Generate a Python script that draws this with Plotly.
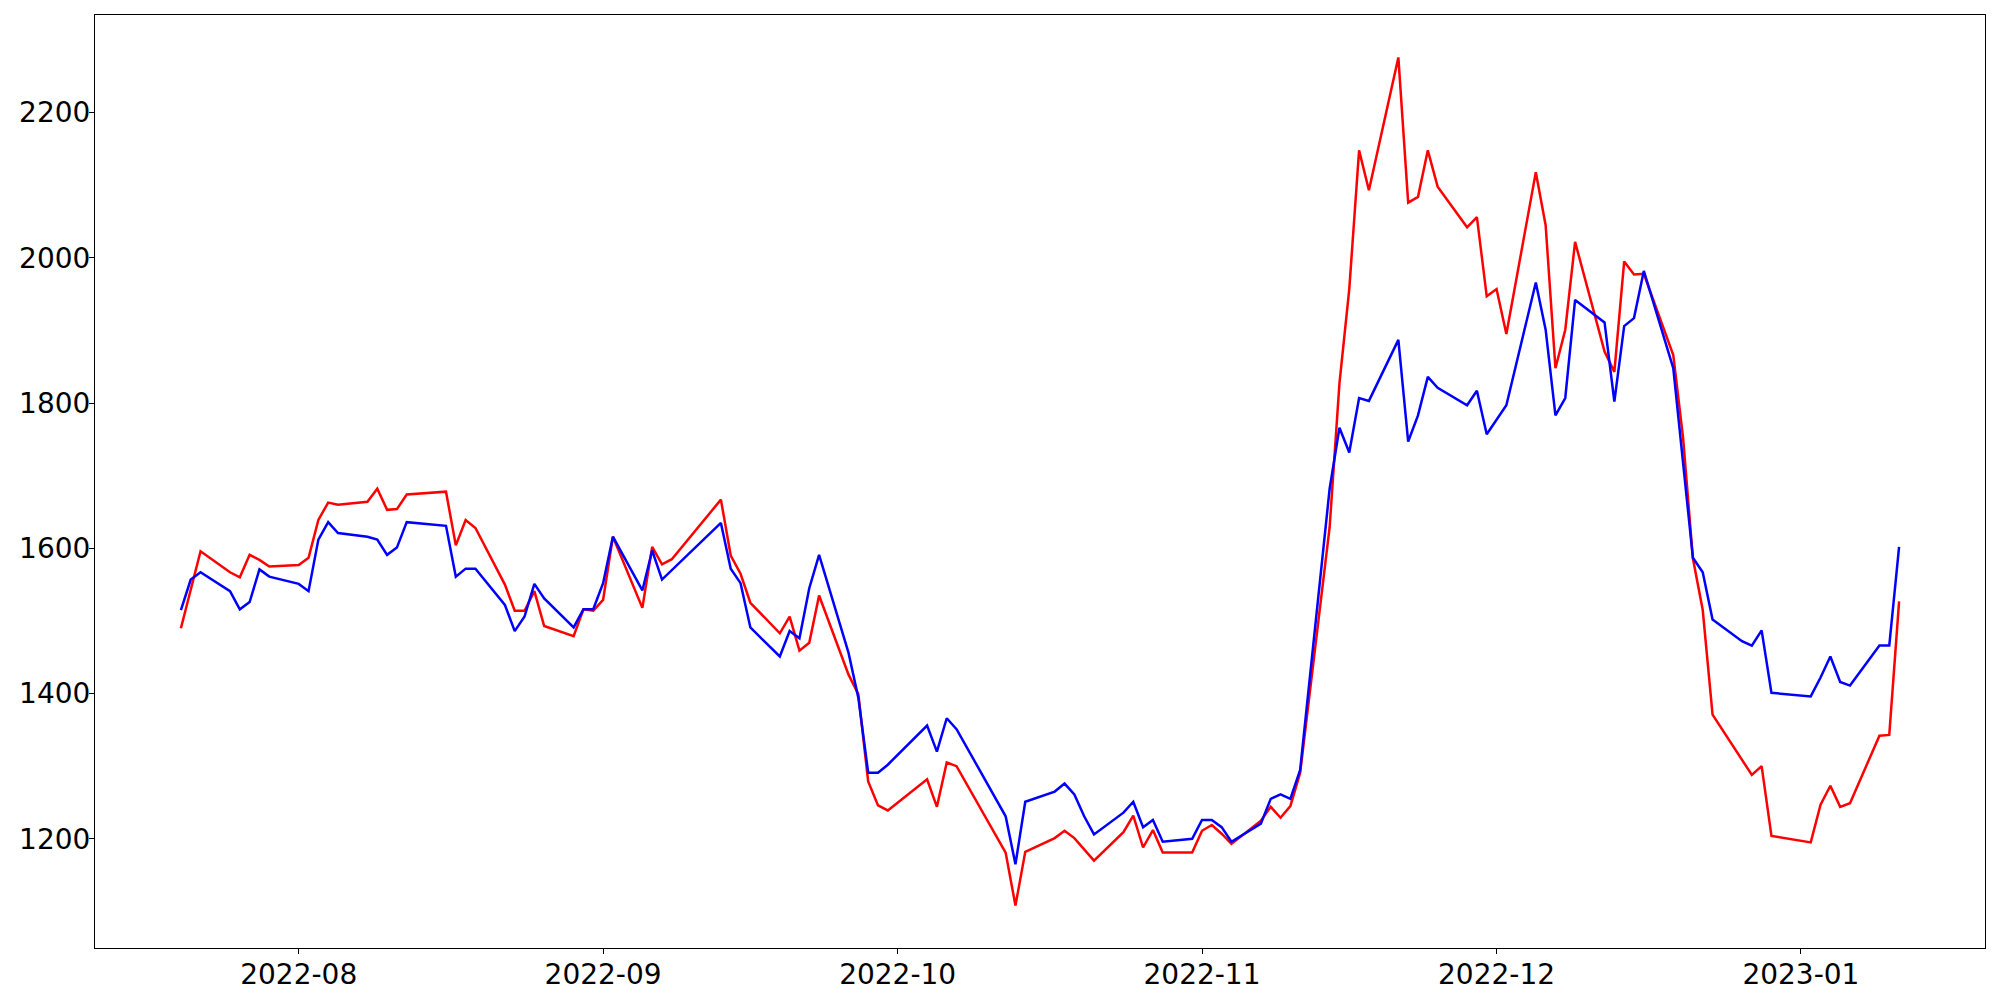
import pandas as pd
import plotly.graph_objects as go

dates = [
    "2022-07-20", "2022-07-21", "2022-07-22", "2022-07-25", "2022-07-26", "2022-07-27", "2022-07-28", "2022-07-29",
    "2022-08-01", "2022-08-02", "2022-08-03", "2022-08-04", "2022-08-05", "2022-08-08", "2022-08-09", "2022-08-10",
    "2022-08-11", "2022-08-12", "2022-08-16", "2022-08-17", "2022-08-18", "2022-08-19", "2022-08-22", "2022-08-23",
    "2022-08-24", "2022-08-25", "2022-08-26", "2022-08-29", "2022-08-30", "2022-08-31",
    "2022-09-01", "2022-09-02", "2022-09-05", "2022-09-06", "2022-09-07", "2022-09-08", "2022-09-13", "2022-09-14",
    "2022-09-15", "2022-09-16", "2022-09-19", "2022-09-20", "2022-09-21", "2022-09-22", "2022-09-23", "2022-09-26",
    "2022-09-27", "2022-09-28", "2022-09-29", "2022-09-30",
    "2022-10-04", "2022-10-05", "2022-10-06", "2022-10-07", "2022-10-12", "2022-10-13", "2022-10-14", "2022-10-17",
    "2022-10-18", "2022-10-19", "2022-10-20", "2022-10-21", "2022-10-24", "2022-10-25", "2022-10-26", "2022-10-27",
    "2022-10-28", "2022-10-31",
    "2022-11-01", "2022-11-02", "2022-11-03", "2022-11-04", "2022-11-07", "2022-11-08", "2022-11-09", "2022-11-10",
    "2022-11-11", "2022-11-14", "2022-11-15", "2022-11-16", "2022-11-17", "2022-11-18", "2022-11-21", "2022-11-22",
    "2022-11-23", "2022-11-24", "2022-11-25", "2022-11-28", "2022-11-29", "2022-11-30",
    "2022-12-01", "2022-12-02", "2022-12-05", "2022-12-06", "2022-12-07", "2022-12-08", "2022-12-09", "2022-12-12",
    "2022-12-13", "2022-12-14", "2022-12-15", "2022-12-16", "2022-12-19", "2022-12-20", "2022-12-21", "2022-12-22",
    "2022-12-23", "2022-12-26", "2022-12-27", "2022-12-28", "2022-12-29",
    "2023-01-02", "2023-01-03", "2023-01-04", "2023-01-05", "2023-01-06", "2023-01-09", "2023-01-10", "2023-01-11",
]

red_values = [
    1490, 1545, 1596, 1567, 1560, 1591, 1584, 1575,
    1577, 1587, 1639, 1663, 1660, 1664, 1682, 1653,
    1654, 1674, 1678, 1604, 1639, 1628, 1550, 1514,
    1514, 1541, 1493, 1479, 1516, 1514,
    1529, 1616, 1518, 1602, 1578, 1585, 1667, 1590,
    1565, 1525, 1483, 1506, 1459, 1470, 1535, 1426,
    1399, 1279, 1246, 1239,
    1282, 1244, 1305, 1300, 1181, 1108, 1182, 1201,
    1211, 1201, 1186, 1170, 1209, 1232, 1188, 1212,
    1181, 1181,
    1211, 1219, 1207, 1193, 1225, 1244, 1229, 1245,
    1291, 1629, 1827, 1957, 2148, 2093, 2276, 2076,
    2084, 2148, 2098, 2042, 2056, 1947,
    1957, 1895, 2118, 2045, 1848, 1901, 2022, 1871,
    1843, 1995, 1977, 1978, 1866, 1752, 1586, 1515,
    1371, 1310, 1288, 1300, 1204,
    1195, 1247, 1273, 1244, 1249, 1342, 1343, 1527,
]

blue_values = [
    1515, 1557, 1567, 1541, 1516, 1526, 1571, 1561,
    1551, 1541, 1612, 1636, 1621, 1616, 1612, 1591,
    1601, 1636, 1631, 1561, 1572, 1572, 1522, 1486,
    1506, 1551, 1531, 1491, 1516, 1516,
    1552, 1616, 1542, 1597, 1557, 1570, 1635, 1572,
    1552, 1491, 1451, 1486, 1476, 1545, 1591, 1456,
    1394, 1291, 1291, 1302,
    1356, 1320, 1366, 1351, 1231, 1165, 1251, 1265,
    1276, 1261, 1231, 1206, 1236, 1251, 1216, 1226,
    1196, 1200,
    1226, 1226, 1216, 1196, 1221, 1255, 1261, 1255,
    1295, 1682, 1766, 1732, 1807, 1803, 1887, 1747,
    1783, 1836, 1821, 1797, 1817, 1757,
    1777, 1797, 1966, 1901, 1783, 1807, 1942, 1911,
    1802, 1906, 1917, 1982, 1848, 1722, 1587, 1567,
    1502, 1472, 1466, 1487, 1401,
    1396, 1422, 1451, 1416, 1411, 1466, 1466, 1602,
]

y_ticks = [1200, 1400, 1600, 1800, 2000, 2200]
x_ticks = ["2022-08-01", "2022-09-01", "2022-10-01", "2022-11-01", "2022-12-01", "2023-01-01"]
x_tick_labels = ["2022-08", "2022-09", "2022-10", "2022-11", "2022-12", "2023-01"]

dt = pd.to_datetime(dates)
span = dt.max() - dt.min()
x_range = [dt.min() - span * 0.05, dt.max() + span * 0.05]
all_y = red_values + blue_values
ymin, ymax = min(all_y), max(all_y)
pad = (ymax - ymin) * 0.05
y_range = [ymin - pad, ymax + pad]

fig = go.Figure()
fig.add_trace(go.Scatter(x=dt, y=red_values, mode="lines",
                         line=dict(color="#ff0000", width=2.5), showlegend=False))
fig.add_trace(go.Scatter(x=dt, y=blue_values, mode="lines",
                         line=dict(color="#0000ff", width=2.5), showlegend=False))

axis_common = dict(
    showline=True, linecolor="black", linewidth=1.1, mirror=True,
    showgrid=False, zeroline=False, automargin=False,
    ticks="outside", ticklen=5, tickwidth=1.1, tickcolor="black",
    tickfont=dict(family="DejaVu Sans", size=28, color="black"),
)

fig.update_layout(
    width=2000, height=1000,
    margin=dict(l=95, r=15, t=15, b=52, pad=0),
    paper_bgcolor="white", plot_bgcolor="white",
    xaxis=dict(range=x_range, tickvals=pd.to_datetime(x_ticks), ticktext=x_tick_labels,
               ticklabelstandoff=-4, **axis_common),
    yaxis=dict(range=y_range, tickvals=y_ticks, ticklabelstandoff=-7, **axis_common),
)

fig.write_html("out.html", config={"displayModeBar": False},
               post_script="document.body.style.margin='0';document.body.style.overflow='hidden';")
